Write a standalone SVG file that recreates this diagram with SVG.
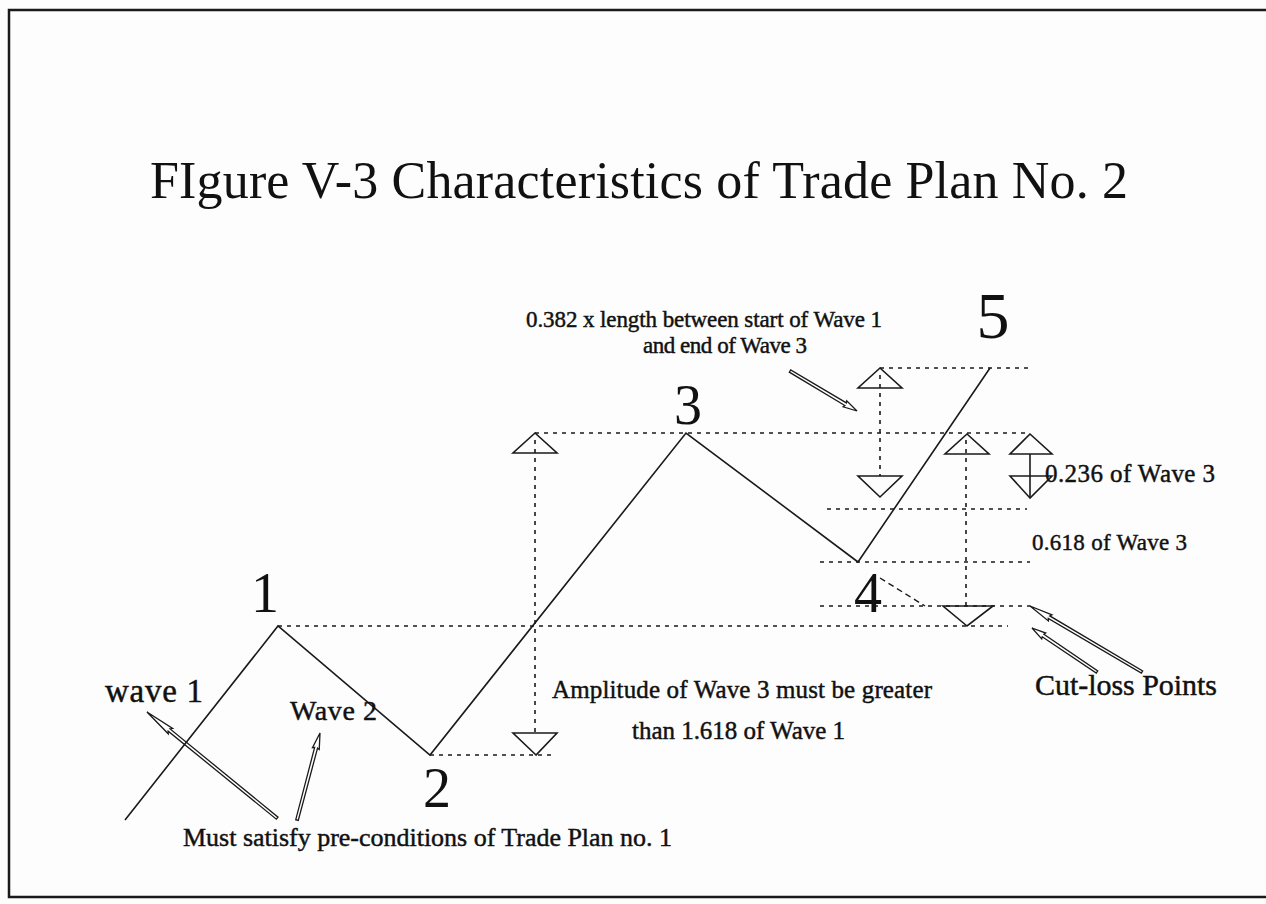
<svg xmlns="http://www.w3.org/2000/svg" xmlns:xlink="http://www.w3.org/1999/xlink" width="1266" height="904" viewBox="0 0 1266 904">
<style>
  .bg { fill: #fdfdfd; }
  .frame { fill: none; stroke: #1a1a1a; stroke-width: 2.5; }
  .wave { fill: none; stroke: #1a1a1a; stroke-width: 1.6; }
  .dot { fill: none; stroke: #1a1a1a; stroke-width: 1.6; stroke-dasharray: 4 5; }
  .dash { fill: none; stroke: #1a1a1a; stroke-width: 1.4; stroke-dasharray: 6 4; }
  .tri { fill: none; stroke: #1a1a1a; stroke-width: 1.6; stroke-linejoin: miter; }
  .solid { fill: none; stroke: #1a1a1a; stroke-width: 1.6; }
  .needle { fill: #ffffff; stroke: #1a1a1a; stroke-width: 1.3; }
  text { font-family: "Liberation Serif", "Times New Roman", serif; fill: #111; }
  .title { font-size: 52px; }
  .num { font-size: 56px; text-anchor: middle; }
  .lbl { font-size: 23px; stroke: #111; stroke-width: 0.45; }
</style>
<defs>
  <path id="needle" class="needle" vector-effect="non-scaling-stroke" d="M0,0 L18,-3.5 L17,-1.5 L100,-1.3 L100,1.3 L17,1.5 L18,3.5 Z"/>
</defs>
<rect class="bg" x="0" y="0" width="1266" height="904"/>
<path class="frame" d="M1266,10 H9 V897 H1266"/>

<g id="title">
  <text class="title" x="150" y="198" textLength="978">FIgure V-3 Characteristics of Trade Plan No. 2</text>
</g>

<g id="connectors">
  <line class="dot" x1="880" y1="368" x2="1030" y2="368"/>
  <line class="dot" x1="535" y1="433" x2="1030" y2="433"/>
  <line class="dot" x1="827" y1="509" x2="1027" y2="509"/>
  <line class="dot" x1="820" y1="562" x2="1030" y2="562"/>
  <line class="dot" x1="820" y1="606" x2="1030" y2="606"/>
  <line class="dot" x1="278" y1="626" x2="1008" y2="626"/>
  <line class="dot" x1="430" y1="755" x2="556" y2="755"/>
  <line class="dot" x1="535" y1="440" x2="535" y2="733"/>
  <line class="dot" x1="880" y1="375" x2="880" y2="476"/>
  <line class="dot" x1="966" y1="440" x2="966" y2="606"/>
  <line class="solid" x1="1030" y1="454" x2="1030" y2="497"/>
  <line class="dash" x1="880" y1="578" x2="925" y2="606"/>
  <use xlink:href="#needle" href="#needle" transform="translate(147,712) rotate(39.2) scale(1.68,1)"/>
  <use xlink:href="#needle" href="#needle" transform="translate(320,733) rotate(104.8) scale(0.9,1)"/>
  <use xlink:href="#needle" href="#needle" transform="translate(857,411) rotate(210.8) scale(0.78,1)"/>
  <use xlink:href="#needle" href="#needle" transform="translate(1030,606) rotate(30.5) scale(1.3,1)"/>
  <use xlink:href="#needle" href="#needle" transform="translate(1032,628) rotate(34.1) scale(0.785,1)"/>
</g>

<g id="wave-path">
  <polyline class="wave" points="125,820 278,626 430,755 686,433 858,562 990,368"/>
</g>

<g id="markers">
  <path class="tri" d="M535,433 L513,453 L557,453 Z"/>
  <path class="tri" d="M536,755 L513,733 L557,733 Z"/>
  <path class="tri" d="M880,368 L858,388 L902,388 Z"/>
  <path class="tri" d="M880,497 L858,476 L902,476 Z"/>
  <path class="tri" d="M967,434 L945,454 L989,454 Z"/>
  <path class="tri" d="M967,626 L943,606 L993,606 Z"/>
  <path class="tri" d="M1030,434 L1010,454 L1052,454 Z"/>
  <path class="tri" d="M1030,498 L1010,476 L1052,476 Z"/>
</g>

<g id="wave-labels">
  <text class="num" x="265" y="612">1</text>
  <text class="num" x="437" y="807">2</text>
  <text class="num" x="688" y="424">3</text>
  <text class="num" x="868" y="612">4</text>
  <text class="num" x="993" y="338" style="font-size:66px">5</text>
</g>

<g id="annotation-382">
  <text class="lbl" x="526" y="327" textLength="356">0.382 x length between start of Wave 1</text>
  <text class="lbl" x="643" y="353" textLength="164">and end of Wave 3</text>
</g>
<g id="annotation-236">
  <text class="lbl" x="1045" y="482" style="font-size:25px" textLength="170">0.236 of Wave 3</text>
</g>
<g id="annotation-618">
  <text class="lbl" x="1032" y="550" textLength="155">0.618 of Wave 3</text>
</g>
<g id="annotation-amplitude">
  <text class="lbl" x="552" y="698" style="font-size:25px" textLength="380">Amplitude of Wave 3 must be greater</text>
  <text class="lbl" x="632" y="739" style="font-size:25px" textLength="213">than 1.618 of Wave 1</text>
</g>
<g id="annotation-cutloss">
  <text class="lbl" x="1035" y="695" style="font-size:30px" textLength="182">Cut-loss Points</text>
</g>
<g id="annotation-wave1">
  <text class="lbl" x="105" y="702" style="font-size:33px" textLength="98">wave 1</text>
</g>
<g id="annotation-wave2">
  <text class="lbl" x="290" y="720" style="font-size:28px" textLength="87">Wave 2</text>
</g>
<g id="annotation-precond">
  <text class="lbl" x="183" y="846" style="font-size:26px" textLength="489">Must satisfy pre-conditions of Trade Plan no. 1</text>
</g>
</svg>
